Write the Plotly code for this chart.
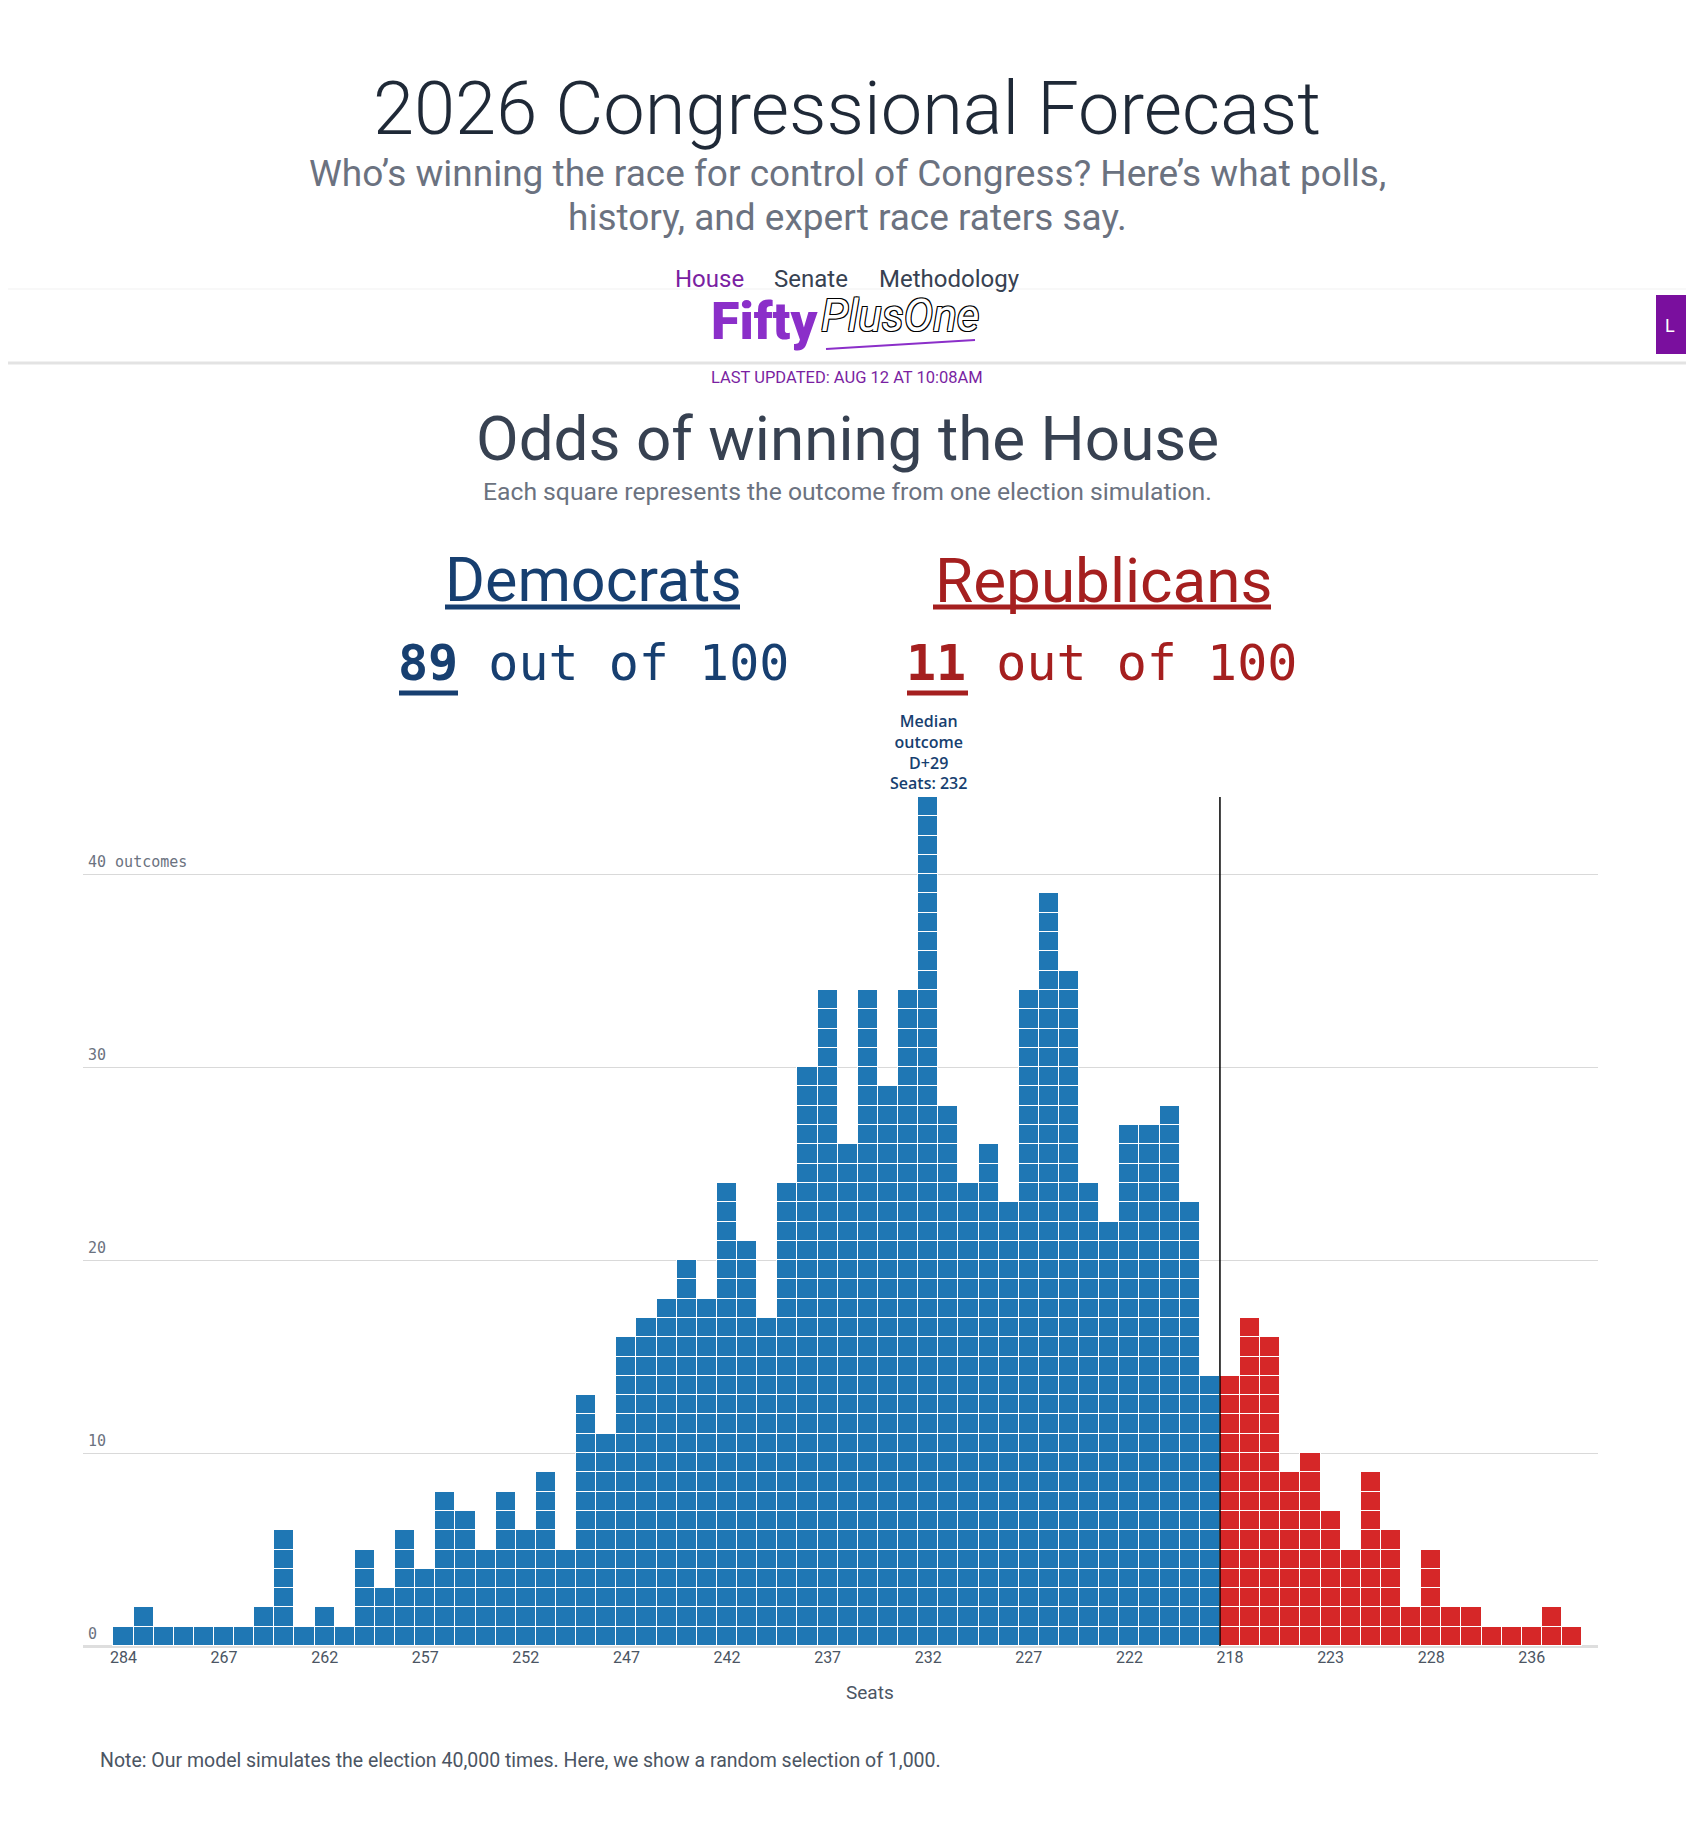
import plotly.graph_objects as go

# simulated outcomes: seats won (Dem side left, GOP side right) and number of simulations
dem_seats = [284, 278, 274, 271, 269, 267, 266, 265, 264, 263, 262, 261, 260, 259, 258,
             257, 256, 255, 254, 253, 252, 251, 250, 249, 248, 247, 246, 245, 244, 243,
             242, 241, 240, 239, 238, 237, 236, 235, 234, 233, 232, 231, 230, 229, 228,
             227, 226, 225, 224, 223, 222, 221, 220, 219, 218]
dem_counts = [1, 2, 1, 1, 1, 1, 1, 2, 6, 1, 2, 1, 5, 3, 6,
              4, 8, 7, 5, 8, 6, 9, 5, 13, 11, 16, 17, 18, 20, 18,
              24, 21, 17, 24, 30, 34, 26, 34, 29, 34, 44, 28, 24, 26, 23,
              34, 39, 35, 24, 22, 27, 27, 28, 23, 14]
rep_seats = [218, 219, 220, 221, 222, 223, 224, 225, 226, 227, 228, 229, 230, 232, 234,
             236, 238, 241]
rep_counts = [14, 17, 16, 9, 10, 7, 5, 9, 6, 2, 5, 2, 2, 1, 1, 1, 2, 1]

grid_vals = [0, 10, 20, 30, 40]
grid_text = ['0', '10', '20', '30', '40 outcomes']
median_seats = 232
median_margin = 'D+29'

# page size and plot box, in page pixels (the browser adds an 8px body margin)
W, H = 1694, 1822
OFF = 8
L, R, T, B = 83, 1598, 797, 1646

def px(x):
    return (x - L) / (R - L)

def py(y):
    return (B - y) / (B - T)

dem_x = ['D%d' % s for s in dem_seats]
rep_x = ['R%d' % s for s in rep_seats]
cats = dem_x + rep_x
labels = [str(s) for s in dem_seats + rep_seats]

def squares(keys, counts):
    xs = []
    for k, c in zip(keys, counts):
        xs += [k] * c
    return xs, [1] * len(xs)

fig = go.Figure()
for keys, counts, col in [(dem_x, dem_counts, '#1f77b4'), (rep_x, rep_counts, '#d62728')]:
    xs, ys = squares(keys, counts)
    fig.add_trace(go.Bar(x=xs, y=ys, width=1, marker=dict(color=col, line=dict(color='white', width=1.3)),
                         showlegend=False, hoverinfo='x'))

sans = 'Roboto'
mono = 'DejaVu Sans Mono'
ann = []

def text(x, y, s, size, color, family=sans, xanchor='center', yanchor='middle', weight=None, **kw):
    f = dict(family=family, size=size, color=color)
    if weight:
        f['weight'] = weight
    f.update(kw.pop('font', {}))
    ann.append(dict(xref='paper', yref='paper', x=px(x), y=py(y), text=s, showarrow=False,
                    xanchor=xanchor, yanchor=yanchor, font=f, **kw))

# page header
text(847, 108, '2026 Congressional Forecast', 74, '#1f2937', weight=300)
text(847, 173, 'Who’s winning the race for control of Congress? Here’s what polls,', 37, '#6b7280')
text(847, 217, 'history, and expert race raters say.', 37, '#6b7280')
text(709, 295, 'House', 24, '#7a1fa2', yanchor='bottom')
text(811, 295, 'Senate', 24, '#374151', yanchor='bottom')
text(950, 295, 'Methodology', 24, '#374151', yanchor='bottom')
text(820, 321, 'Fifty', 52, '#8b2fc9', xanchor='right', weight=900)
text(819, 316, '<i>PlusOne</i>', 44, 'white', xanchor='left',
     font=dict(shadow='1px 1px 0 #000, -1px -1px 0 #000, 1px -1px 0 #000, -1px 1px 0 #000'))
text(1663, 325, 'L', 18, 'white', xanchor='left')
text(847, 377, 'LAST UPDATED: AUG 12 AT 10:08AM', 16.5, '#7a1fa2')

# odds block
text(847, 439, 'Odds of winning the House', 62, '#374151')
text(847, 492, 'Each square represents the outcome from one election simulation.', 24.7, '#6b7280')
text(593, 580, 'Democrats', 61, '#173f70')
text(1103, 580, 'Republicans', 62, '#a51f1f')
text(593, 663, '<b>89</b> out of 100', 50, '#173f70', family=mono)
text(1101, 663, '<b>11</b> out of 100', 50, '#a51f1f', family=mono)

# median callout
ann.append(dict(x='D%d' % median_seats, y=max(dem_counts), xref='x', yref='y', yanchor='bottom',
                showarrow=False, yshift=1,
                text='Median<br>outcome<br>%s<br>Seats: %d' % (median_margin, median_seats),
                font=dict(family='Open Sans', size=16, color='#173f70', weight=600)))

# gridline labels sit just above each line at the left
for v, t in zip(grid_vals, grid_text):
    ann.append(dict(xref='paper', yref='y', x=px(86), y=v, text=t, showarrow=False,
                    xanchor='left', yanchor='bottom', yshift=1,
                    font=dict(family=mono, size=15, color='#6b7280')))

# axis title and footnote
text(870, 1692, 'Seats', 19, '#4b5563')
text(98, 1760, 'Note: Our model simulates the election 40,000 times. Here, we show a random selection of 1,000.',
     19.5, '#4b5563', xanchor='left')

shapes = [
    # sticky header band
    dict(type='rect', xref='paper', yref='paper', x0=px(0), x1=px(W), y0=py(288), y1=py(362),
         fillcolor='white', line=dict(width=0), layer='below'),
    dict(type='line', xref='paper', yref='paper', x0=px(0), x1=px(W), y0=py(289), y1=py(289),
         line=dict(color='#f1f1f1', width=1)),
    dict(type='line', xref='paper', yref='paper', x0=px(0), x1=px(W), y0=py(363), y1=py(363),
         line=dict(color='#e3e3e3', width=3)),
    dict(type='rect', xref='paper', yref='paper', x0=px(1656), x1=px(W + 5), y0=py(295), y1=py(354),
         fillcolor='#7a0f9e', line=dict(width=0)),
    dict(type='line', xref='paper', yref='paper', x0=px(826), x1=px(975), y0=py(349), y1=py(340),
         line=dict(color='#8b2fc9', width=2)),
    # underlines
    dict(type='line', xref='paper', yref='paper', x0=px(445), x1=px(740), y0=py(607), y1=py(607),
         line=dict(color='#173f70', width=5)),
    dict(type='line', xref='paper', yref='paper', x0=px(933), x1=px(1271), y0=py(607), y1=py(607),
         line=dict(color='#a51f1f', width=5)),
    dict(type='line', xref='paper', yref='paper', x0=px(399), x1=px(458), y0=py(693), y1=py(693),
         line=dict(color='#173f70', width=5)),
    dict(type='line', xref='paper', yref='paper', x0=px(907), x1=px(968), y0=py(693), y1=py(693),
         line=dict(color='#a51f1f', width=5)),
    # majority line between the two parties
    dict(type='line', xref='x', yref='y', x0=len(dem_x) - 0.5, x1=len(dem_x) - 0.5, y0=0,
         y1=max(dem_counts), line=dict(color='black', width=1.5), layer='above'),
]

tick_pos = list(range(0, len(cats), 5))

fig.update_layout(
    width=W - 2 * OFF, height=H - 2 * OFF, barmode='stack', bargap=0,
    margin=dict(l=L - OFF, r=W - R - OFF, t=T - OFF, b=H - B - OFF, pad=0),
    paper_bgcolor='white', plot_bgcolor='white',
    annotations=ann, shapes=shapes, showlegend=False,
    xaxis=dict(type='category', categoryorder='array', categoryarray=cats,
               range=[-2.01, 73.29], tickmode='array', tickvals=[cats[i] for i in tick_pos],
               ticktext=[labels[i] for i in tick_pos], ticks='',
               tickfont=dict(family=sans, size=16, color='#4b5563'), showgrid=False,
               zeroline=False, showline=False, fixedrange=True),
    yaxis=dict(range=[0, max(dem_counts)], tickvals=grid_vals, showticklabels=False, ticks='',
               gridcolor='#d9d9d9', gridwidth=1.3, zeroline=True, zerolinecolor='#dedede',
               zerolinewidth=3, showline=False, fixedrange=True),
)

fig.write_html('out.html')
